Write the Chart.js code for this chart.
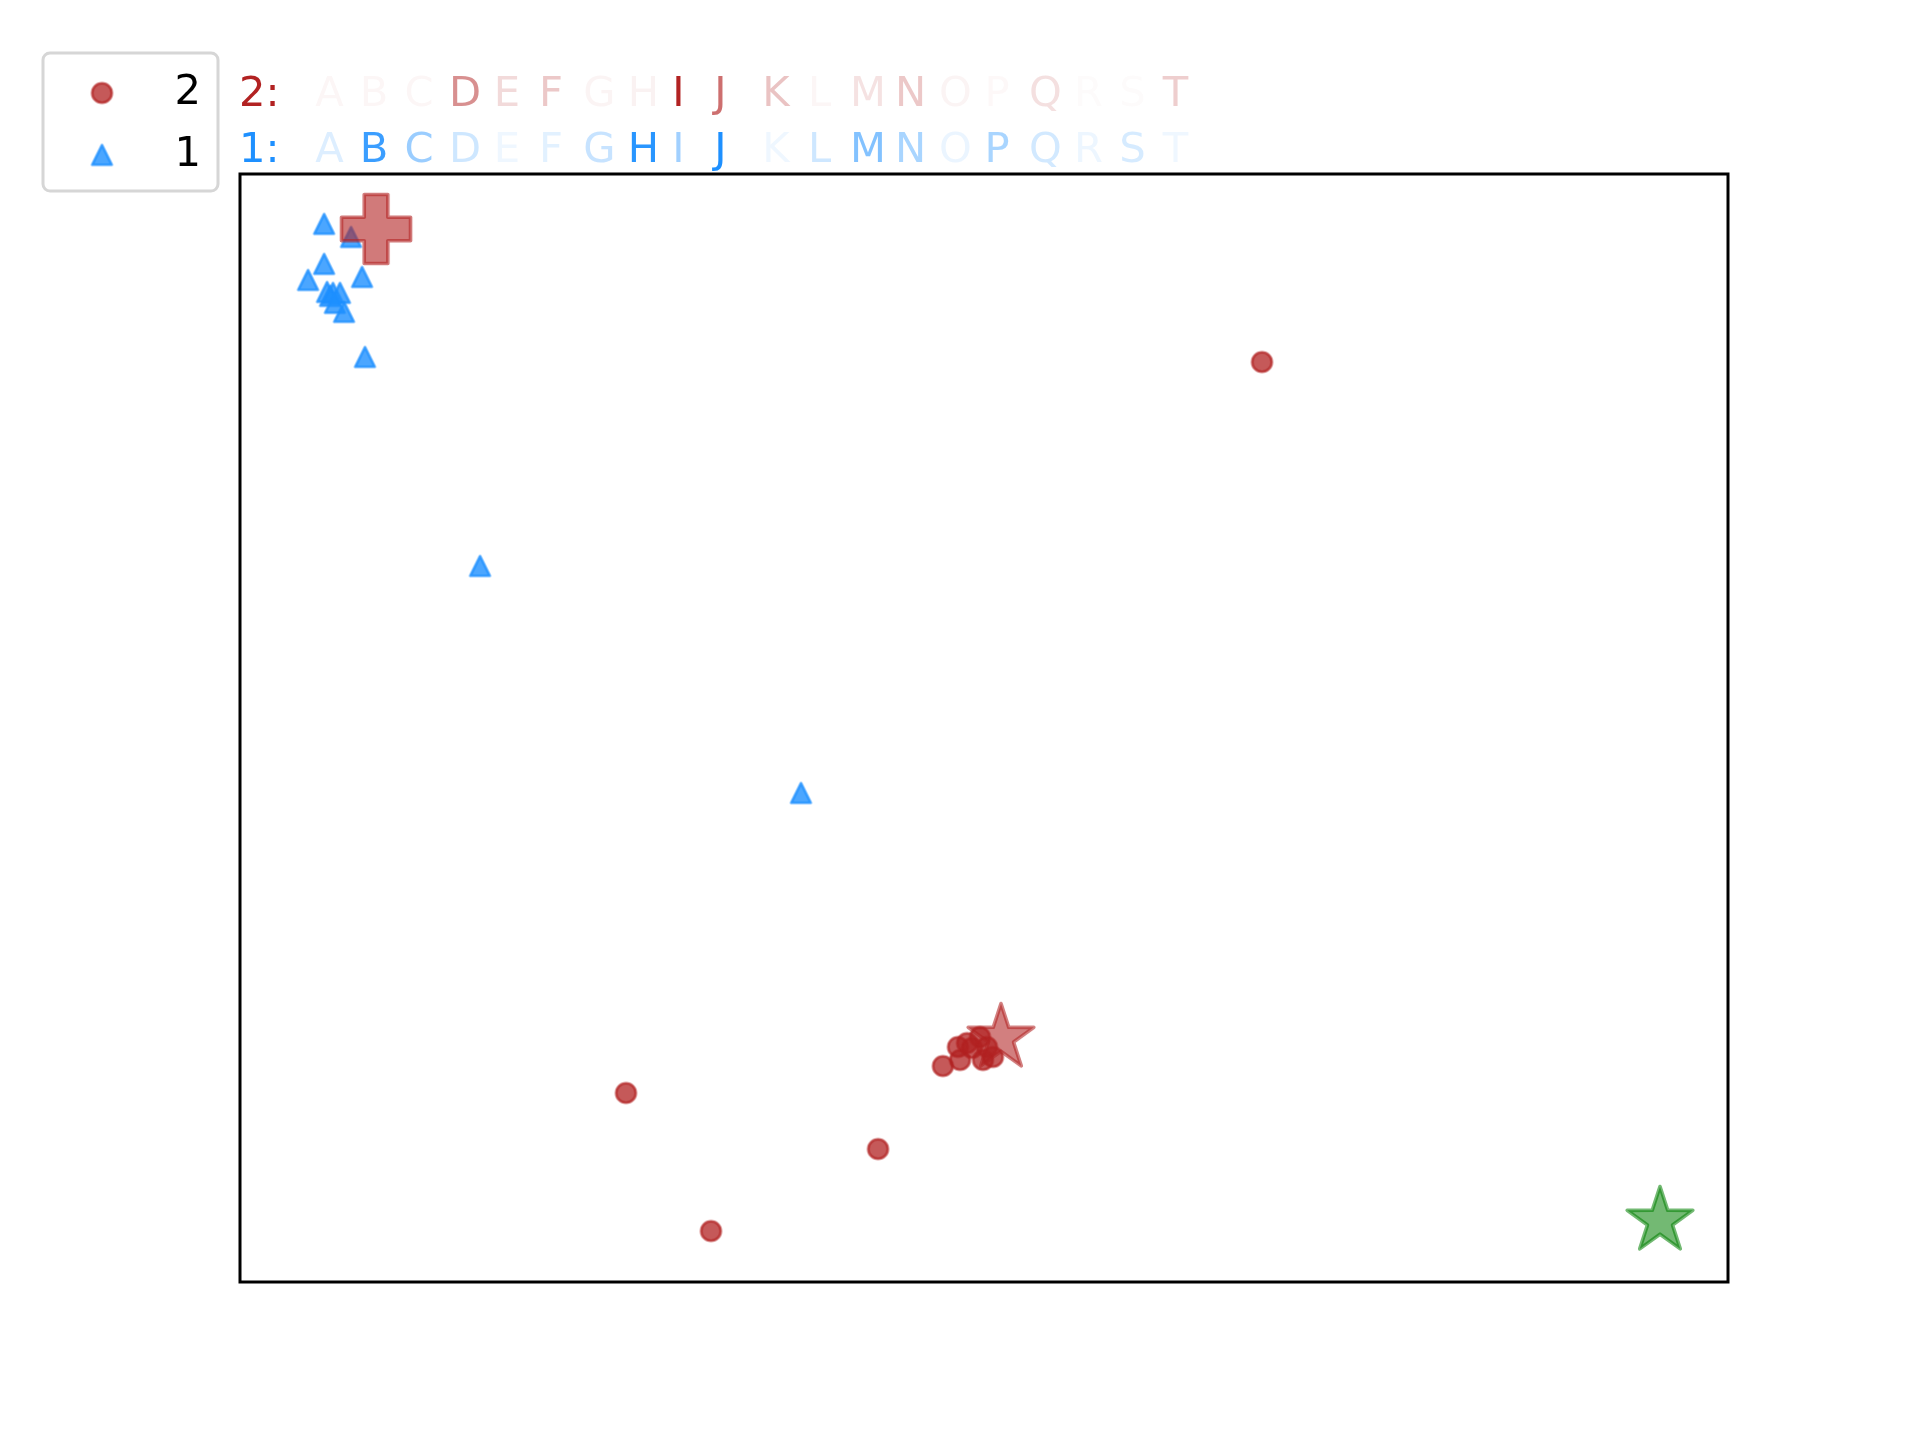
<!DOCTYPE html>
<html>
<head>
<meta charset="utf-8">
<script src="https://cdn.jsdelivr.net/npm/chart.js@4.4.0/dist/chart.umd.min.js"></script>
<style>
  body { margin: 0; background: #fff; }
  #chart { display: block; }
</style>
</head>
<body>
<canvas id="chart" width="1920" height="1440"></canvas>
<script>
// letter weights shown above the plot, one row per class
const letters = ['A','B','C','D','E','F','G','H','I','J','K','L','M','N','O','P','Q','R','S','T'];
const weights2 = [0.04, 0.04, 0.04, 0.5, 0.17, 0.25, 0.05, 0.06, 1.0, 0.65, 0.27, 0.04, 0.13, 0.25, 0.05, 0.03, 0.14, 0.02, 0.02, 0.22];
const weights1 = [0.15, 0.87, 0.45, 0.22, 0.07, 0.13, 0.25, 0.95, 0.42, 1.0, 0.07, 0.22, 0.55, 0.38, 0.09, 0.38, 0.2, 0.08, 0.18, 0.07];

// class 2 (circles)
const class2X = [68.68, 25.94, 42.88, 31.65, 47.24, 48.39, 48.25, 48.86, 49.73, 49.93, 50.60, 49.19, 50.20];
const class2Y = [83.03, 17.06, 12.00, 4.60, 19.49, 20.04, 21.21, 21.57, 22.11, 20.04, 20.31, 21.12, 21.21];

// class 1 (triangles)
const class1X = [5.65, 7.46, 5.65, 4.57, 8.20, 5.85, 6.25, 6.72, 6.05, 6.38, 6.99, 8.40, 16.13, 37.70];
const class1Y = [95.49, 94.31, 91.88, 90.43, 90.70, 89.35, 89.26, 89.26, 88.99, 88.36, 87.55, 83.48, 64.62, 44.13];

// centres and the extra point
const centre2 = [51.14, 22.02];
const centre1 = [9.14, 95.04];
const query = [95.43, 5.51];

// layout of the letter rows (pixel centre of each column)
const letterCentres = [329.5, 374, 419, 465, 507, 551, 599.5, 643.5, 678.5, 720.5, 776, 819.5, 868, 910.5, 955.5, 997, 1045.5, 1088.5, 1132.5, 1175.5];

const RED = '178,34,34';
const BLUE = '30,144,255';
const FONT = '41.7px "DejaVu Sans"';

function toPoints(xs, ys) {
  return xs.map((x, i) => ({ x: x, y: ys[i] }));
}

function makeMarker(extent, path, fill, stroke, lineWidth) {
  const size = Math.ceil(2 * extent + lineWidth + 4);
  const c = document.createElement('canvas');
  c.width = size;
  c.height = size;
  const g = c.getContext('2d');
  g.translate(size / 2, size / 2);
  g.beginPath();
  path(g);
  g.closePath();
  g.fillStyle = fill;
  g.fill();
  g.lineWidth = lineWidth;
  g.lineJoin = 'round';
  g.strokeStyle = stroke;
  g.stroke();
  return c;
}

function circlePath(r) {
  return g => g.arc(0, 0, r, 0, Math.PI * 2);
}

function trianglePath(h) {
  return g => { g.moveTo(0, -h); g.lineTo(-h, h); g.lineTo(h, h); };
}

function plusPath(R, w) {
  const pts = [[-w,-R],[w,-R],[w,-w],[R,-w],[R,w],[w,w],[w,R],[-w,R],[-w,w],[-R,w],[-R,-w],[-w,-w]];
  return g => pts.forEach((p, i) => i ? g.lineTo(p[0], p[1]) : g.moveTo(p[0], p[1]));
}

function starPath(R, r) {
  return g => {
    for (let i = 0; i < 10; i++) {
      const a = -Math.PI / 2 + i * Math.PI / 5;
      const rad = i % 2 ? r : R;
      const x = Math.cos(a) * rad, y = Math.sin(a) * rad;
      i ? g.lineTo(x, y) : g.moveTo(x, y);
    }
  };
}

const circleMark = makeMarker(10, circlePath(9.8), `rgba(${RED},0.75)`, `rgba(${RED},0.75)`, 2.6);
const triMark = makeMarker(10, trianglePath(9.8), `rgba(${BLUE},0.8)`, `rgba(${BLUE},0.8)`, 2.6);
const plusMark = makeMarker(35, plusPath(34.5, 11.8), `rgba(${RED},0.6)`, `rgba(${RED},0.6)`, 3.6);
const redStar = makeMarker(35, starPath(34.5, 13.2), `rgba(${RED},0.58)`, `rgba(${RED},0.58)`, 3.6);
const greenStar = makeMarker(35, starPath(34.5, 13.2), 'rgba(0,128,0,0.55)', 'rgba(0,128,0,0.55)', 3.6);

const framePlugin = {
  id: 'frame',
  afterDraw(chart) {
    const a = chart.chartArea;
    const ctx = chart.ctx;
    ctx.save();
    ctx.strokeStyle = '#000';
    ctx.lineWidth = 3;
    ctx.strokeRect(a.left, a.top, a.right - a.left, a.bottom - a.top);
    ctx.restore();
  }
};

function drawRow(ctx, label, rgb, weights, y) {
  ctx.textAlign = 'left';
  ctx.fillStyle = `rgb(${rgb})`;
  ctx.fillText(label, 239, y);
  ctx.textAlign = 'center';
  letters.forEach((ch, i) => {
    ctx.fillStyle = `rgba(${rgb},${weights[i]})`;
    ctx.fillText(ch, letterCentres[i], y);
  });
}

const headerPlugin = {
  id: 'header',
  afterDraw(chart) {
    const ctx = chart.ctx;
    ctx.save();
    ctx.font = FONT;
    ctx.textBaseline = 'alphabetic';
    drawRow(ctx, '2:', RED, weights2, 106);
    drawRow(ctx, '1:', BLUE, weights1, 162);

    // legend box
    ctx.beginPath();
    ctx.roundRect(43, 53, 175, 138, 7);
    ctx.fillStyle = 'rgba(255,255,255,0.8)';
    ctx.fill();
    ctx.lineWidth = 3;
    ctx.strokeStyle = '#d6d6d6';
    ctx.stroke();
    ctx.drawImage(circleMark, 102 - circleMark.width / 2, 93 - circleMark.height / 2);
    ctx.drawImage(triMark, 102 - triMark.width / 2, 155 - triMark.height / 2);
    ctx.fillStyle = '#000';
    ctx.textAlign = 'right';
    ctx.fillText('2', 201, 104);
    ctx.fillText('1', 201, 166);
    ctx.restore();
  }
};

new Chart(document.getElementById('chart'), {
  type: 'scatter',
  data: {
    datasets: [
      { label: 'centre 1', data: [{ x: centre1[0], y: centre1[1] }], pointStyle: plusMark, pointRadius: 30, order: 0 },
      { label: 'centre 2', data: [{ x: centre2[0], y: centre2[1] }], pointStyle: redStar, pointRadius: 30, order: 0 },
      { label: 'query', data: [{ x: query[0], y: query[1] }], pointStyle: greenStar, pointRadius: 30, order: 0 },
      { label: '2', data: toPoints(class2X, class2Y), pointStyle: circleMark, pointRadius: 10, order: 1 },
      { label: '1', data: toPoints(class1X, class1Y), pointStyle: triMark, pointRadius: 10, order: 2 }
    ]
  },
  options: {
    responsive: false,
    animation: false,
    devicePixelRatio: 1,
    layout: { padding: { left: 240, top: 174, right: 192, bottom: 158 } },
    scales: {
      x: { type: 'linear', min: 0, max: 100, display: false },
      y: { type: 'linear', min: 0, max: 100, display: false }
    },
    plugins: {
      legend: { display: false },
      tooltip: { enabled: false }
    }
  },
  plugins: [framePlugin, headerPlugin]
});
</script>
</body>
</html>
